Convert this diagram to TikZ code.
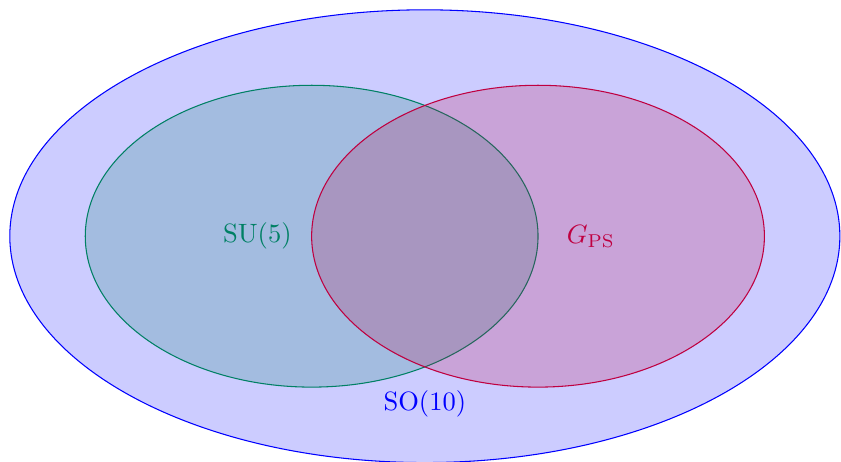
\documentclass[tikz,border=0pt]{standalone}
\definecolor{sucol}{RGB}{0,128,100}
\begin{document}
\begin{tikzpicture}[
  setline/.style={line width=0.4pt}
]
\useasboundingbox (-4.13,-2.98) rectangle (7.015,3.13);
\draw[setline, draw=blue, fill=blue!20] (1.5,0) ellipse (5.5cm and 3cm);
\draw[setline, draw=sucol, fill=sucol, fill opacity=0.2] (0,0) ellipse (3cm and 2cm);
\draw[setline, draw=purple, fill=purple, fill opacity=0.2] (3,0) ellipse (3cm and 2cm);
\node[text=sucol] (su) at (-0.72,0) {SU(5)};
\node[text=purple] (gps) at (3.7,0) {$G_{\mathrm{PS}}$};
\node[text=blue] (so) at (1.5,-2.22) {SO(10)};
\end{tikzpicture}
\end{document}
